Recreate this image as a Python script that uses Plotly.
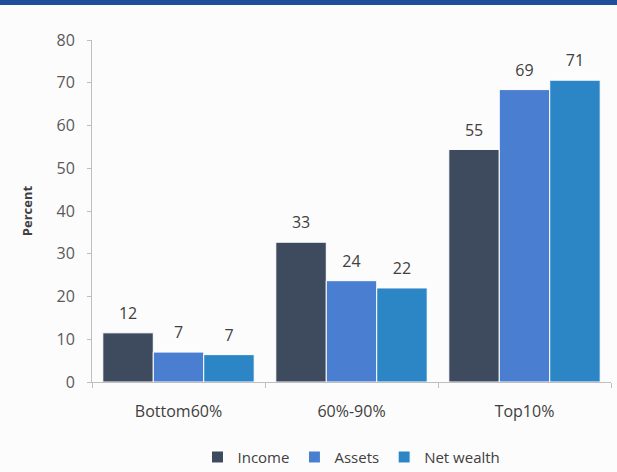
import plotly.graph_objects as go

categories = ["Bottom60%", "60%-90%", "Top10%"]
income = [11.5, 32.7, 54.4]
assets = [7.0, 23.7, 68.4]
net_wealth = [6.4, 22.0, 70.6]
income_labels = ["12", "33", "55"]
assets_labels = ["7", "24", "69"]
nw_labels = ["7", "22", "71"]
y_ticks = [0, 10, 20, 30, 40, 50, 60, 70, 80]

W, H_FIG = 617, 472
ML, MR, MT, MB = 92, 6, 40, 90
PW, PH = W - ML - MR, H_FIG - MT - MB

fig = go.Figure()
series = [
    ("Income", income, income_labels, "#3e4a5e"),
    ("Assets", assets, assets_labels, "#4a7ed0"),
    ("Net wealth", net_wealth, nw_labels, "#2c86c6"),
]
for i, (name, vals, labs, col) in enumerate(series):
    fig.add_trace(go.Bar(
        x=categories, y=vals, name=name, offsetgroup=str(i),
        marker=dict(color=col, line=dict(color="white", width=1)),
        hoverinfo="name+y",
    ))
for i, (name, vals, labs, col) in enumerate(series):
    fig.add_trace(go.Scatter(
        x=categories, y=vals, text=labs, mode="markers+text", textposition="top center",
        offsetgroup=str(i), showlegend=False, hoverinfo="skip",
        marker=dict(size=14, color="rgba(0,0,0,0)"),
        textfont=dict(family="Open Sans", size=16, color="#404040"),
        cliponaxis=False,
    ))

fig.update_layout(
    width=W, height=H_FIG,
    margin=dict(l=ML, r=MR, t=MT, b=MB, autoexpand=False),
    paper_bgcolor="#fcfcfc", plot_bgcolor="#fcfcfc",
    barmode="group", bargap=0.125, bargroupgap=0,
    scattermode="group", scattergap=0.125,
    font=dict(family="Open Sans", color="#595959", size=15),
    showlegend=True,
    legend=dict(orientation="h", x=0.5, xanchor="center", y=-0.22, yanchor="middle",
                font=dict(size=15, color="#404040"), itemwidth=30, traceorder="normal",
                bgcolor="rgba(0,0,0,0)"),
    xaxis=dict(showline=True, linecolor="#bfbfbf", linewidth=1, ticks="outside",
               tickson="boundaries", ticklen=5, tickcolor="#bfbfbf", automargin=False,
               ticklabelstandoff=15,
               tickfont=dict(size=16, color="#404040")),
    yaxis=dict(range=[0, 80], tickvals=y_ticks, showgrid=False, zeroline=False,
               showline=True, linecolor="#bfbfbf", linewidth=1, ticks="outside",
               ticklen=4, tickcolor="#bfbfbf", automargin=False, ticklabelstandoff=9,
               tickfont=dict(size=16, color="#595959"),
               title=dict(text="<b>Percent</b>", font=dict(size=13, color="#404040"), standoff=20)),
)
fig.add_shape(type="rect", xref="paper", yref="paper",
              x0=-ML / PW - 0.02, x1=1 + MR / PW + 0.02,
              y0=1 + (MT - 5) / PH, y1=1 + (MT + 2) / PH,
              fillcolor="#1f4e9a", line=dict(width=0), layer="above")
fig.write_html("out.html", config={"displayModeBar": False},
               post_script="document.body.style.margin='0px';")
